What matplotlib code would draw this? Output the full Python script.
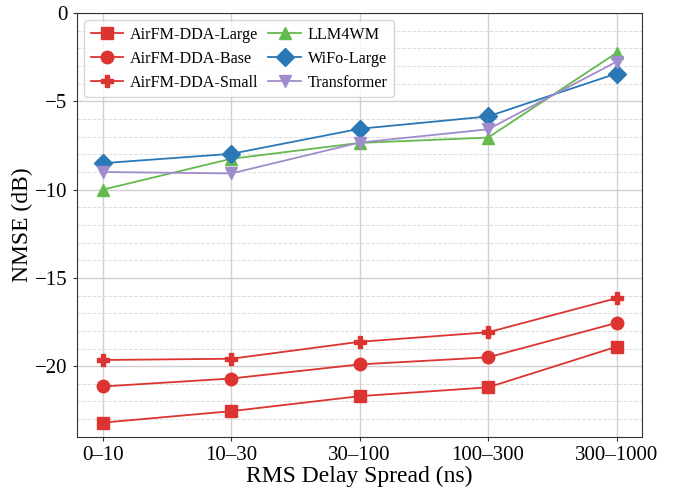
import numpy as np
import matplotlib
matplotlib.use("Agg")
from matplotlib import pyplot as plt
from matplotlib.ticker import MultipleLocator

# RMS delay spread bins
categories = ["0\u201310", "10\u201330", "30\u2013100", "100\u2013300", "300\u20131000"]

# NMSE (dB) per model
airfm_large = [-23.2, -22.55, -21.7, -21.2, -18.9]
airfm_base = [-21.15, -20.7, -19.9, -19.5, -17.55]
airfm_small = [-19.65, -19.58, -18.62, -18.08, -16.15]
llm4wm = [-10.0, -8.25, -7.35, -7.05, -2.25]
wifo_large = [-8.5, -7.97, -6.55, -5.85, -3.42]
transformer = [-9.0, -9.08, -7.33, -6.58, -2.75]

plt.rcParams['font.family'] = ['Liberation Serif', 'DejaVu Serif']
plt.rcParams['mathtext.fontset'] = 'stix'

fig, ax = plt.subplots(figsize=(6.76, 4.88), dpi=100)
x = np.arange(len(categories))

red = '#dc3430'
ax.plot(x, airfm_large, color=red, marker='s', markersize=9, lw=1.3, label='AirFM-DDA-Large')
ax.plot(x, airfm_base, color=red, marker='o', markersize=9, lw=1.3, label='AirFM-DDA-Base')
ax.plot(x, airfm_small, color=red, marker='P', markersize=9, lw=1.3, label='AirFM-DDA-Small')
ax.plot(x, llm4wm, color='#64b94f', marker='^', markersize=9, lw=1.3, label='LLM4WM')
ax.plot(x, wifo_large, color='#2a78b6', marker='D', markersize=9, lw=1.3, label='WiFo-Large')
ax.plot(x, transformer, color='#a08ccc', marker='v', markersize=9, lw=1.3, label='Transformer')

ax.set_xticks(x)
ax.set_xticklabels(categories)
ax.set_xlim(-0.2, 4.2)
ax.set_ylim(-24, 0)
ax.yaxis.set_major_locator(MultipleLocator(5))
ax.yaxis.set_minor_locator(MultipleLocator(1))
ax.grid(which='major', color='#d0d0d0', lw=1.0)
ax.grid(which='minor', axis='y', color='#dddddd', lw=0.7, ls='--')
ax.set_axisbelow(True)
ax.tick_params(which='major', length=3, width=0.8, color='#333333', labelsize=15, pad=4)
ax.tick_params(which='minor', length=0)
for s in ax.spines.values():
    s.set_color('#333333')

ax.set_xlabel('RMS Delay Spread (ns)', fontsize=17, labelpad=0.5)
ax.set_ylabel('NMSE (dB)', fontsize=17, labelpad=1)

ax.legend(ncol=2, loc='upper left', fontsize=11.6, handlelength=2.0,
          columnspacing=0.6, handletextpad=0.45, labelspacing=0.5,
          borderaxespad=0.45, framealpha=0.8)

fig.subplots_adjust(left=0.114, right=0.95, top=0.973, bottom=0.105)
fig.savefig('out.png', dpi=100)
